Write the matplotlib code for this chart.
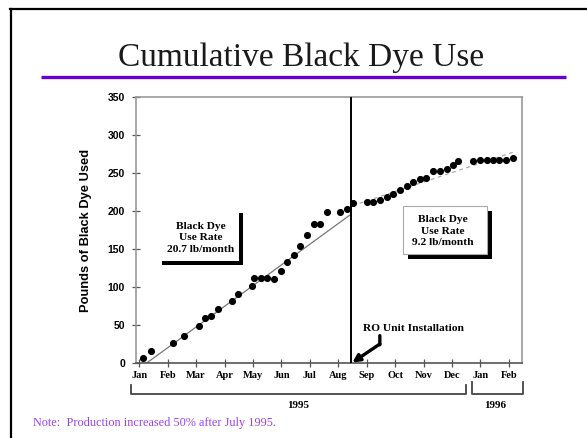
import matplotlib
matplotlib.use("Agg")
import matplotlib.pyplot as plt
from matplotlib.lines import Line2D
from matplotlib.patches import Rectangle

# ---------------- data ----------------
month_labels = ["Jan", "Feb", "Mar", "Apr", "May", "Jun", "Jul", "Aug",
                "Sep", "Oct", "Nov", "Dec", "Jan", "Feb"]
yticks = [0, 50, 100, 150, 200, 250, 300, 350]

# cumulative use points (x in months since Jan 1995)
pts_x = [0.14, 0.40, 1.18, 1.58, 2.09, 2.32, 2.52, 2.78, 3.27, 3.46, 3.95,
         4.03, 4.27, 4.50, 4.74, 4.97, 5.18, 5.43, 5.66, 5.90, 6.13, 6.36,
         6.60, 7.07, 7.30, 7.52,
         8.00, 8.23, 8.46, 8.70, 8.93, 9.17, 9.40, 9.63, 9.87, 10.08, 10.34,
         10.57, 10.81, 11.04, 11.22, 11.74, 11.98, 12.22, 12.45, 12.66,
         12.89, 13.13]
pts_y = [6, 16, 26, 35, 49, 59, 62, 71, 82, 91, 101,
         112, 112, 112, 111, 121, 133, 142, 154, 169, 183, 183,
         199, 199, 202, 211,
         212, 212, 215, 219, 223, 228, 233, 238, 242, 244, 252,
         252, 255, 261, 266, 266, 267, 267, 267, 267,
         267, 270]

trend1_x = [0.26, 7.42]
trend1_y = [0, 195]
trend2_x = [7.50, 13.20]
trend2_y = [207, 278]
ro_install_x = 7.44

W, H = 587, 438
fig = plt.figure(figsize=(W / 100, H / 100), dpi=100)
fig.patch.set_facecolor("white")


def fp(x, y):
    return (x / W, 1 - y / H)


def fline(xs, ys, **kw):
    fx = [x / W for x in xs]
    fy = [1 - y / H for y in ys]
    fig.add_artist(Line2D(fx, fy, transform=fig.transFigure, **kw))


# slide frame
fline([10, 587], [9, 9], color="black", lw=1.6)
fline([11, 11], [9, 438], color="black", lw=1.6)

# title and underline
fig.text(*fp(301, 58), "Cumulative Black Dye Use", family="Liberation Serif",
         fontsize=24, ha="center", va="center", color="#1a1a1a")
fline([41, 566], [77, 77], color="#6600cc", lw=2.4, solid_capstyle="butt")

# axes
x0, x1, ytop, ybot = 136, 522, 97, 363
ax = fig.add_axes([x0 / W, 1 - ybot / H, (x1 - x0) / W, (ybot - ytop) / H])
ax.set_xlim(-0.116, 13.46)
ax.set_ylim(0, 350)

for side in ["left", "top", "right"]:
    ax.spines[side].set_color("#999999")
    ax.spines[side].set_linewidth(1.2)
ax.spines["bottom"].set_color("#555555")
ax.spines["bottom"].set_linewidth(1.2)

ax.set_yticks(yticks)
ax.set_yticklabels([str(v) for v in yticks], fontsize=7.5, fontweight="bold",
                   family="Liberation Sans")
ax.set_xticks(range(len(month_labels)))
ax.set_xticklabels(month_labels, fontsize=7.5, fontweight="bold",
                   family="Liberation Serif")
ax.tick_params(axis="both", direction="inout", length=6, width=0.9,
               color="#555555", pad=3)
ax.tick_params(axis="y", pad=5)

ax.set_ylabel("Pounds of Black Dye Used", fontsize=9.3, fontweight="bold",
              family="Liberation Sans", labelpad=11)

# trend lines
ax.plot(trend1_x, trend1_y, color="#777777", lw=0.9)
ax.plot(trend2_x, trend2_y, color="#aaaaaa", lw=0.9, ls=(0, (3, 3)))

# points
ax.plot(pts_x, pts_y, "o", color="black", ms=4.1, zorder=5)

# RO installation vertical line
ax.axvline(ro_install_x, color="black", lw=1.4, zorder=4)

# RO text and arrow
ax.text(7.87, 40, "RO Unit Installation", fontsize=8.2, fontweight="bold",
        family="Liberation Serif", ha="left", va="bottom")
ax.annotate("", xy=(8.46, 24), xytext=(8.46, 36),
            arrowprops=dict(arrowstyle="-", lw=2.4, color="black",
                            shrinkA=0, shrinkB=0))
ax.annotate("", xy=(ro_install_x + 0.05, 0.5), xytext=(8.46, 25),
            arrowprops=dict(arrowstyle="-|>", lw=2.4, color="black",
                            mutation_scale=11, shrinkA=0, shrinkB=0))

# left rate box (shadow only)
fig.add_artist(Rectangle(fp(162, 265), 81 / W, 4 / H, transform=fig.transFigure,
                         facecolor="black", edgecolor="none"))
fig.add_artist(Rectangle(fp(239, 265), 4 / W, 52 / H, transform=fig.transFigure,
                         facecolor="black", edgecolor="none"))
fig.text(*fp(201, 238), "Black Dye\nUse Rate\n20.7 lb/month",
         family="Liberation Serif", fontweight="bold", fontsize=8.2,
         ha="center", va="center", linespacing=1.32)

# right rate box
fig.add_artist(Rectangle(fp(408, 259), 84 / W, 48 / H, transform=fig.transFigure,
                         facecolor="black", edgecolor="none"))
fig.add_artist(Rectangle(fp(403, 254), 84 / W, 48 / H, transform=fig.transFigure,
                         facecolor="white", edgecolor="#aaaaaa", lw=0.8))
fig.text(*fp(443, 231), "Black Dye\nUse Rate\n9.2 lb/month",
         family="Liberation Serif", fontweight="bold", fontsize=8.2,
         ha="center", va="center", linespacing=1.32)

# year brackets
fline([131, 131, 466, 466], [385, 394, 394, 385], color="#444444", lw=1.3)
fline([472, 472, 523, 523], [382, 394, 394, 382], color="#444444", lw=1.3)
fig.text(*fp(298, 405), "1995", family="Liberation Serif", fontweight="bold",
         fontsize=8, ha="center", va="center")
fig.text(*fp(495, 405), "1996", family="Liberation Serif", fontweight="bold",
         fontsize=8, ha="center", va="center")

# note
fig.text(*fp(33, 423), "Note:  Production increased 50% after July 1995.",
         family="Liberation Serif", fontsize=8.8, color="#9a40f0",
         ha="left", va="center")

fig.savefig("out.png", dpi=100)
